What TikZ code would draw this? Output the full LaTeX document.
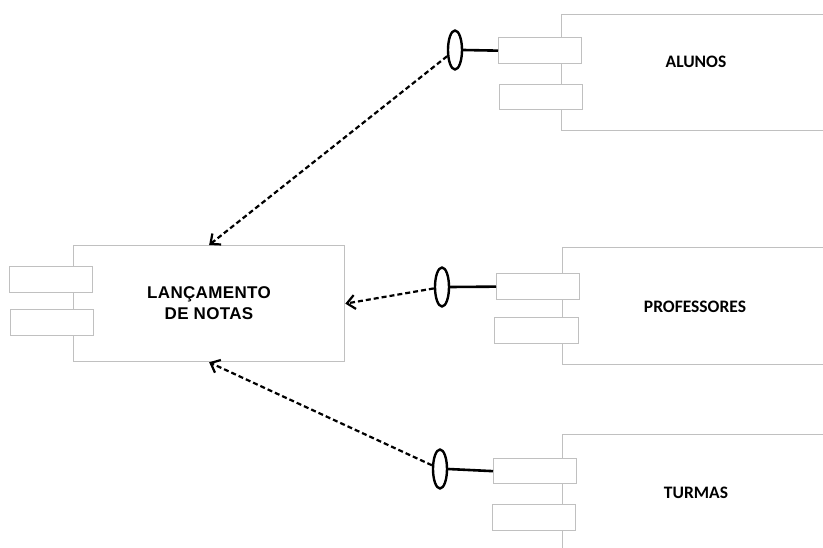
\documentclass[tikz,border=0pt]{standalone}
\usepackage{fontspec}
\setmainfont{Carlito}
\newfontfamily\arialfont[LetterSpace=2]{Liberation Sans}
\usetikzlibrary{shapes.geometric,arrows.meta}
\definecolor{boxgray}{RGB}{192,192,192}
\tikzset{
  x=1pt, y=-1pt,
  compbox/.style={draw=boxgray, line width=1.3pt, fill=white, inner sep=0pt, anchor=north west},
  port/.style={draw=boxgray, line width=1.3pt, fill=white, inner sep=0pt, anchor=north west},
  iface/.style={ellipse, draw=black, line width=2.4pt, fill=white, inner sep=0pt, minimum width=14pt, minimum height=39pt},
  link/.style={draw=black, line width=2.6pt},
  dep/.style={draw=black, line width=2.2pt, dash pattern=on 5pt off 3pt, -{Straight Barb[length=8pt,width=14pt,line width=2.2pt]}},
  lbl/.style={font=\bfseries\fontsize{17.5}{20}\selectfont, inner sep=0pt},
  mainlbl/.style={font=\arialfont\bfseries\fontsize{17}{21}\selectfont, align=center, inner sep=0pt}
}
\begin{document}
\begin{tikzpicture}
\useasboundingbox (0,0) rectangle (823,548);
\clip (0,0) rectangle (823,548);
% main component
\node[compbox, minimum width=271pt, minimum height=116pt] (lanc) at (73,245) {};
\node[port, minimum width=83pt, minimum height=26pt] (lp1) at (9,266) {};
\node[port, minimum width=83pt, minimum height=26pt] (lp2) at (10,309) {};
\node[mainlbl] (lanct) at (209,303) {LANÇAMENTO\\DE NOTAS};
% ALUNOS
\node[compbox, minimum width=280pt, minimum height=116pt] (alu) at (561,14) {};
\node[port, minimum width=83pt, minimum height=26pt] (ap1) at (498,37) {};
\node[port, minimum width=83pt, minimum height=25pt] (ap2) at (499,84) {};
\node[lbl] (alut) at (696,62) {ALUNOS};
\node[iface] (ai) at (455,50) {};
% PROFESSORES
\node[compbox, minimum width=280pt, minimum height=117pt] (pro) at (562,247) {};
\node[port, minimum width=83pt, minimum height=26pt] (pp1) at (496,273) {};
\node[port, minimum width=84pt, minimum height=26pt] (pp2) at (494,317) {};
\node[lbl] (prot) at (695,307) {PROFESSORES};
\node[iface] (pi) at (442,287) {};
% TURMAS
\node[compbox, minimum width=280pt, minimum height=130pt] (tur) at (562,434) {};
\node[port, minimum width=83pt, minimum height=25pt] (tp1) at (493,458) {};
\node[port, minimum width=83pt, minimum height=26pt] (tp2) at (492,504) {};
\node[lbl] (turt) at (696,493) {TURMAS};
\node[iface] (ti) at (440,469) {};
% links
\draw[link] (ai.east) -- (ap1.west);
\draw[link] (pi.east) -- (pp1.west);
\draw[link] (ti.east) -- (tp1.west);
% dependencies
\draw[dep] (ai) -- (lanc.north);
\draw[dep] (pi) -- (lanc.east);
\draw[dep] (ti) -- (lanc.south);
\end{tikzpicture}
\end{document}
